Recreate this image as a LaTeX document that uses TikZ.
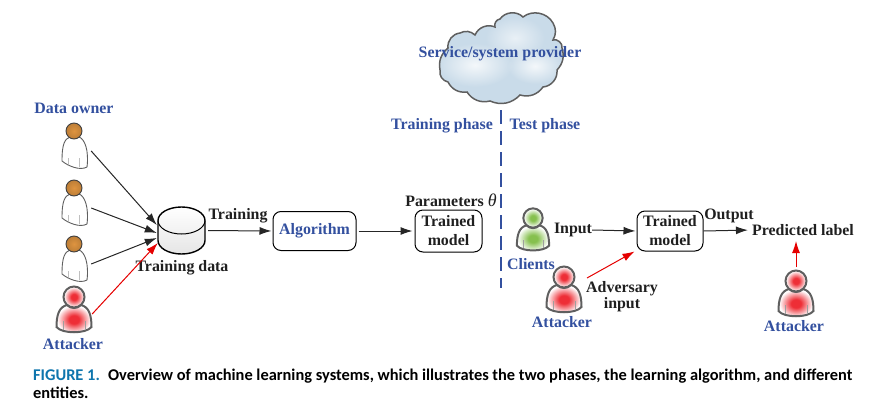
\documentclass[tikz,border=0pt]{standalone}
\usepackage{fontspec}
\setmainfont{Liberation Serif}
\newfontfamily\capfont{Carlito}
\usetikzlibrary{positioning,arrows.meta,fadings}
\definecolor{labelblue}{HTML}{33509F}
\definecolor{capblue}{HTML}{0E75AD}
\definecolor{linegray}{HTML}{5F5F5F}
\definecolor{skyblue}{HTML}{C9DBE9}
\definecolor{redfill}{HTML}{EE2E36}
\definecolor{greenfill}{HTML}{86C04E}
\definecolor{brownfill}{HTML}{DE9440}
\tikzfading[name=softspot, inner color=transparent!0, outer color=transparent!100]
\pgfdeclareradialshading{redperson}{\pgfpoint{0bp}{0bp}}{color(0bp)=(redfill); color(7bp)=(redfill); color(24bp)=(white); color(50bp)=(white)}
\pgfdeclareradialshading{greenperson}{\pgfpoint{0bp}{0bp}}{color(0bp)=(greenfill); color(7bp)=(greenfill); color(24bp)=(white); color(50bp)=(white)}
\tikzset{
  txt/.style={font=\fontsize{15.9}{19}\selectfont\bfseries, text=black!88, inner sep=0pt, align=center},
  bluetxt/.style={txt, text=labelblue},
  roundbox/.style={txt, draw=black, line width=1pt, rounded corners=8pt, inner sep=0pt},
  arrow/.style={-{Latex[length=12pt,width=8pt]}, line width=1pt, black!85},
  redarrow/.style={-{Latex[length=12pt,width=8pt]}, line width=1pt, red!90!black},
  personbox/.style={minimum width=#1, minimum height=12pt, inner sep=0pt},
  pics/person/.style={code={
    \draw[linegray, line width=2pt, shading=#1]
      (-7,8) .. controls (-15,10) and (-17.5,18) .. (-17.5,30)
      .. controls (-12,37) and (12,37) .. (17.5,30)
      .. controls (17.5,18) and (15,10) .. (7,8) .. controls (3,12) and (-3,12) .. cycle;
    \draw[linegray, line width=2pt, shading=#1] (0,0) circle (10.5);
    \draw[linegray!60, line width=.7pt] (-11,24) -- (-11,33) (11,24) -- (11,33);
  }},
  pics/owner/.style={code={
    \draw[linegray, line width=.9pt, fill=white]
      (-4,6) .. controls (-9,8) and (-12,12) .. (-12,30)
      .. controls (-6,35) and (6,40) .. (13,36)
      .. controls (15,20) and (11,8) .. (5,6) -- cycle;
    \draw[black!75, line width=.9pt, shading=radial, inner color=brownfill, outer color=brownfill!85!black]
      (0,0) circle (8);
    \draw[linegray!40, line width=.6pt] (-6,27) -- (-6,33) (5,27) -- (5,36);
  }}
}
\begin{document}
\begin{tikzpicture}[x=1pt,y=-1pt]
  \useasboundingbox (0,0) rectangle (872,407);
  % Cloud of the service provider
  \begin{scope}
    \path[clip] (448,48) to[bend left=45] (460,33) to[bend left=35] (475,35)
      to[bend left=45] (495,27) to[bend left=50] (500,19) to[bend left=50] (523,17)
      to[bend left=50] (553,23) to[bend left=30] (553,40) to[bend left=60] (562,48)
      to[bend left=30] (557,70) to[bend left=45] (543,87) to[bend left=35] (520,95)
      to[bend left=35] (490,101) to[bend left=35] (467,92) to[bend left=35] (448,82)
      to[bend left=45] (440,70) to[bend left=30] cycle;
    \fill[skyblue] (430,10) rectangle (570,110);
    \fill[white, path fading=softspot, opacity=.8] (475,65) ellipse (38 and 22);
    \fill[white, path fading=softspot, opacity=.8] (535,66) ellipse (28 and 18);
    \fill[white, path fading=softspot, opacity=.6] (515,38) ellipse (30 and 22);
  \end{scope}
  \draw[linegray, line width=1.5pt] (448,48) to[bend left=45] (460,33) to[bend left=35] (475,35)
    to[bend left=45] (495,27) to[bend left=50] (500,19) to[bend left=50] (523,17)
    to[bend left=50] (553,23) to[bend left=30] (553,40) to[bend left=60] (562,48)
    to[bend left=30] (557,70) to[bend left=45] (543,87) to[bend left=35] (520,95)
    to[bend left=35] (490,101) to[bend left=35] (467,92) to[bend left=35] (448,82)
    to[bend left=45] (440,70) to[bend left=30] cycle;
  \node[bluetxt] (provider) at (500,54) {Service/system provider};
  % Phases and the line between them
  \node[bluetxt] (trainphase) at (442,126) {Training phase};
  \node[bluetxt] (testphase) at (545,126) {Test phase};
  \coordinate (phasetop) at (501,110);
  \coordinate (phasebottom) at (501,288);
  \draw[labelblue, line width=1.2pt, dash pattern=on 14pt off 7pt] (phasetop) -- (phasebottom);
  % Data owners
  \node[bluetxt] (ownerlabel) at (74,108) {Data owner};
  \foreach \name/\y in {ownerA/131, ownerB/188, ownerC/244} {
    \pic at (74,\y) {owner};
    \node[personbox=34pt] (\name) at (74,\y+20) {};
  }
  % Training data store
  \node[minimum width=47pt, minimum height=47pt, inner sep=0pt] (store) at (181.5,230.5) {};
  \draw[black, line width=1.4pt, top color=white, bottom color=black!10]
    (158,220.5) -- (158,240.5) arc[start angle=180, end angle=0, x radius=23.5, y radius=13.5]
    -- (205,220.5) arc[start angle=0, end angle=-180, x radius=23.5, y radius=13.5] -- cycle;
  \draw[black, line width=1pt] (158,220.5) arc[start angle=180, end angle=0, x radius=23.5, y radius=13.5];
  \node[txt] (storelabel) at (182,268) {Training data};
  % Attackers and clients
  \pic at (74,297) {person=redperson};
  \node[personbox=36pt] (attackerA) at (74,314) {};
  \node[bluetxt] (attackerAlabel) at (73,344) {Attacker};
  \pic[scale=.92] at (533,218) {person=greenperson};
  \node[bluetxt] (clientslabel) at (531,264) {Clients};
  \pic at (564,277) {person=redperson};
  \coordinate (attackerB) at (587,278);
  \node[bluetxt] (attackerBlabel) at (562,322) {Attacker};
  \pic at (796,281) {person=redperson};
  \coordinate (attackerC) at (796,267);
  \node[bluetxt] (attackerClabel) at (794,326) {Attacker};
  % Boxes of the two phases
  \node[roundbox, text=labelblue, minimum width=83pt, minimum height=39pt] (algorithm) at (314.5,231) {Algorithm};
  \node[roundbox, minimum width=67pt, minimum height=42pt] (modelA) at (448.5,231) {Trained\\model};
  \node[roundbox, minimum width=66pt, minimum height=40pt] (modelB) at (670,231) {Trained\\model};
  \node[txt] (parameters) at (451,200) {Parameters {\fontsize{18}{18}\selectfont\fontseries{m}\itshape θ}};
  \node[txt] (trainlabel) at (238,216) {Training};
  \node[txt] (inputlabel) at (573,230) {Input};
  \node[txt] (outputlabel) at (729,216) {Output};
  \node[txt] (adversary) at (622,296.5) {Adversary\\[-3.5pt]input};
  \node[txt] (predicted) at (803,230) {Predicted label};
  % Connectors
  \draw[arrow] (ownerA.east) -- ([yshift=5.5pt,xshift=-1pt]store.west);
  \draw[arrow] (ownerB.east) -- ([yshift=-2.5pt,xshift=-1pt]store.west);
  \draw[arrow] (ownerC.east) -- ([yshift=-7.5pt,xshift=-1pt]store.west);
  \draw[redarrow] (attackerA.east) -- ([yshift=-12.5pt]store.west);
  \draw[arrow, shorten <=3pt, shorten >=1pt] (store.east) -- (algorithm.west);
  \draw[arrow, shorten <=2pt, shorten >=2pt] (algorithm.east) -- (modelA.west);
  \draw[arrow, shorten >=1pt] (inputlabel.east) -- (modelB.west);
  \draw[arrow, shorten >=4pt] (modelB.east) -- (predicted.west);
  \draw[redarrow] (attackerB) -- ([xshift=-2pt]modelB.south west);
  \draw[redarrow] (attackerC) -- (796,241);
  % Caption
  \node[anchor=north west, inner sep=0pt, align=left, text=black,
    font=\capfont\fontsize{16.4}{18}\selectfont\bfseries] (caption) at (33,369)
    {\textcolor{capblue}{FIGURE 1.}\enspace Overview of machine learning systems, which illustrates the two phases, the learning algorithm, and different\\entities.};
\end{tikzpicture}
\end{document}
